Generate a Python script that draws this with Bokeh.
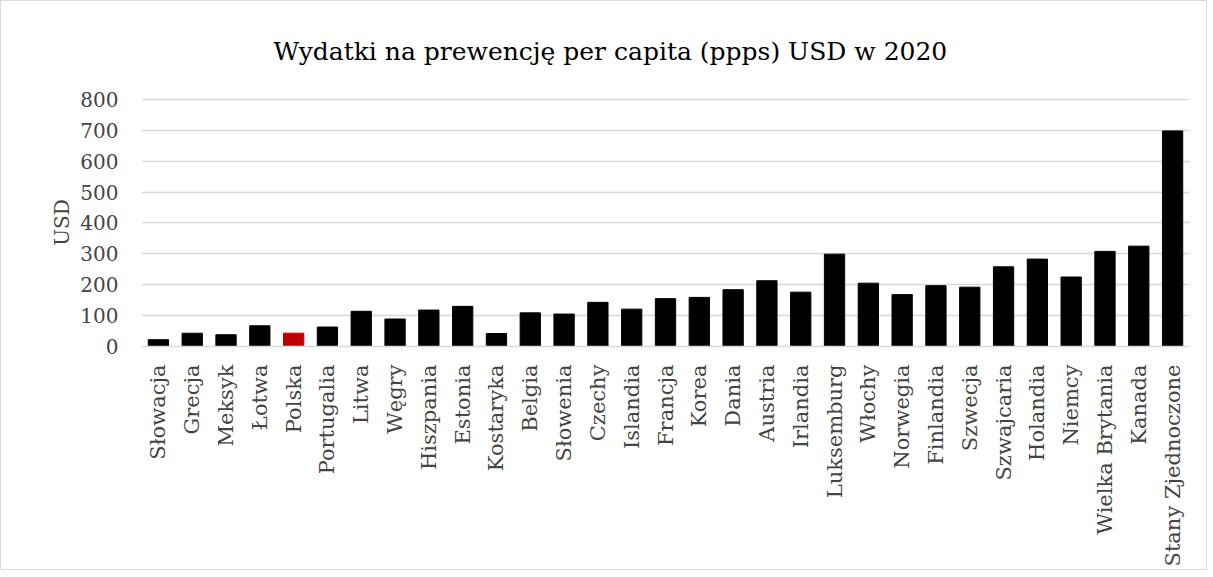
from bokeh.plotting import figure
from bokeh.models import ColumnDataSource, FactorRange, Range1d, FixedTicker
from bokeh.embed import file_html
from bokeh.resources import INLINE

countries = ["Słowacja", "Grecja", "Meksyk", "Łotwa", "Polska", "Portugalia", "Litwa", "Węgry",
             "Hiszpania", "Estonia", "Kostaryka", "Belgia", "Słowenia", "Czechy", "Islandia",
             "Francja", "Korea", "Dania", "Austria", "Irlandia", "Luksemburg", "Włochy",
             "Norwegia", "Finlandia", "Szwecja", "Szwajcaria", "Holandia", "Niemcy",
             "Wielka Brytania", "Kanada", "Stany Zjednoczone"]
values = [22, 43, 38, 67, 43, 63, 114, 89, 118, 130, 42, 109, 105, 143, 121, 155, 159, 184,
          213, 176, 299, 205, 168, 197, 192, 258, 283, 225, 308, 325, 698]
highlight = "Polska"
y_ticks = [0, 100, 200, 300, 400, 500, 600, 700, 800]

colors = ["#c00000" if c == highlight else "#000000" for c in countries]
src = ColumnDataSource(dict(x=countries, top=values, color=colors))

FONT = "DejaVu Serif"

p = figure(x_range=FactorRange(*countries), y_range=Range1d(0, 803),
           output_backend="svg", toolbar_location=None,
           title="Wydatki na prewencję per capita (ppps) USD w 2020")
p.frame_width = 1048
p.frame_height = 248
p.min_border_left = 140
p.min_border_right = 17
p.min_border_top = 97
p.min_border_bottom = 0
p.outline_line_color = None
p.styles = {"border": "1px solid #d9d9d9"}

p.vbar(x="x", top="top", width=0.6, color="color", source=src)

p.title.align = "left"
p.title.offset = 132
p.title.text_font = FONT
p.title.text_font_size = "25px"
p.title.text_font_style = "normal"
p.title.text_color = "#000000"
p.title.standoff = 65

p.yaxis.ticker = FixedTicker(ticks=y_ticks)
p.yaxis.axis_label = "USD"
p.yaxis.axis_label_text_font = FONT
p.yaxis.axis_label_text_font_size = "20px"
p.yaxis.axis_label_text_font_style = "normal"
p.yaxis.axis_label_standoff = 3
p.yaxis.major_label_text_font = FONT
p.yaxis.major_label_text_font_size = "20px"
p.yaxis.major_label_standoff = 17
p.yaxis.axis_line_color = None
p.yaxis.major_tick_line_color = None
p.yaxis.minor_tick_line_color = None

p.xaxis.major_label_orientation = 1.5707963
p.xaxis.major_label_text_font = FONT
p.xaxis.major_label_text_font_size = "21px"
p.xaxis.major_label_standoff = 12
p.xaxis.axis_line_color = "#d9d9d9"
p.xaxis.axis_line_width = 1.5
p.xaxis.major_tick_line_color = None

p.xgrid.grid_line_color = None
p.ygrid.grid_line_color = "#d9d9d9"
p.ygrid.grid_line_width = 1.5

open("out.html", "w").write(file_html(p, INLINE))
